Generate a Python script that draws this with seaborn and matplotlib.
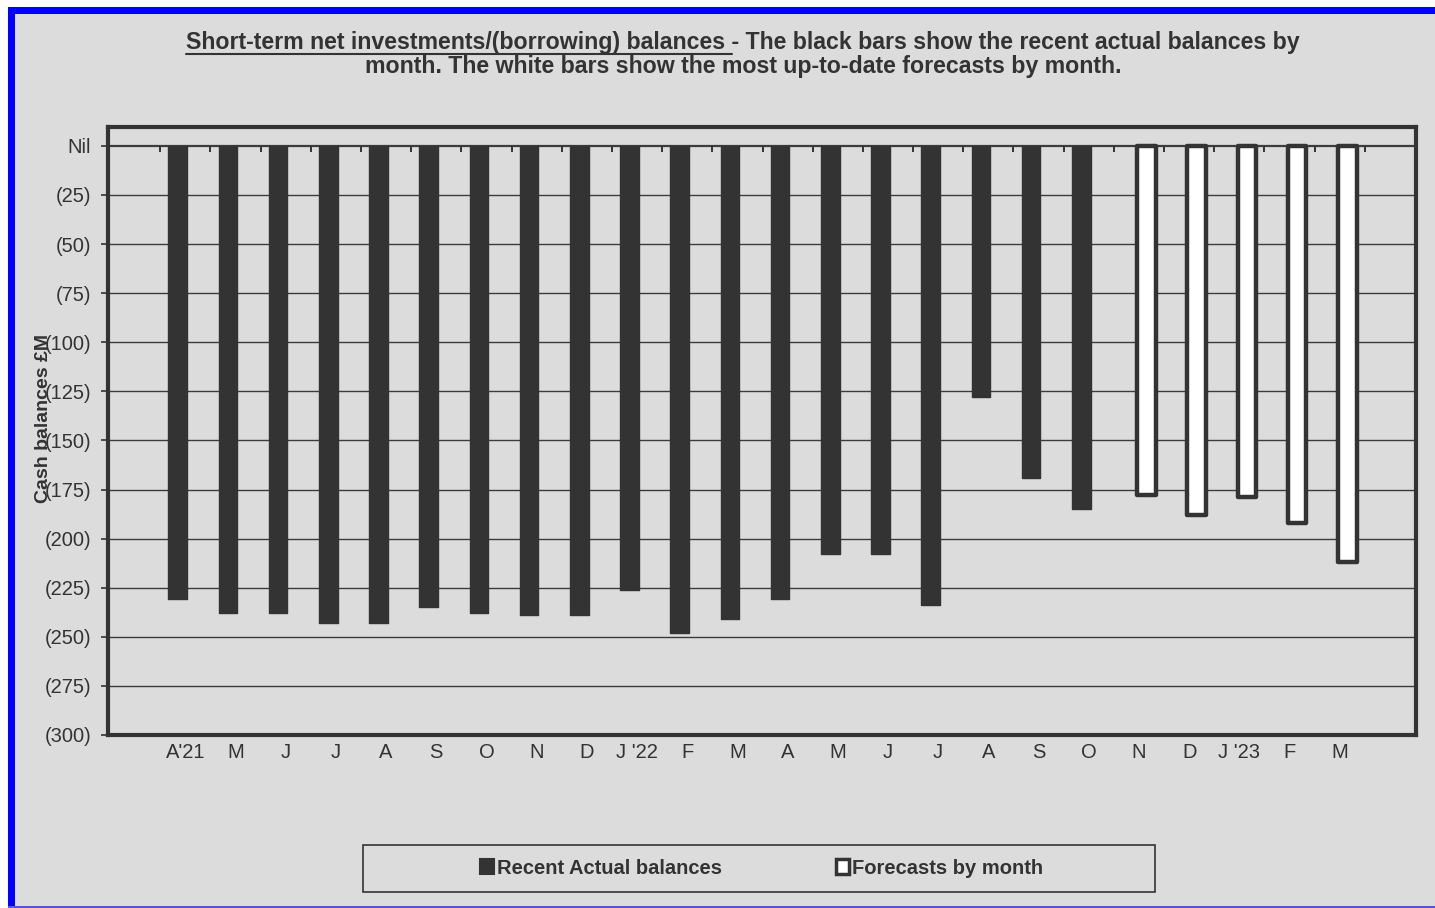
import numpy as np
import pandas as pd
import matplotlib
matplotlib.use("Agg")
import matplotlib.pyplot as plt
from matplotlib.patches import Rectangle, Patch
from matplotlib.lines import Line2D
import seaborn as sns

# ---- data -------------------------------------------------------------
month_labels = ["A'21", "M", "J", "J", "A", "S", "O", "N", "D", "J '22", "F", "M",
                "A", "M", "J", "J", "A", "S", "O", "N", "D", "J '23", "F", "M"]
actual_balances = [-231, -238, -238, -243, -243, -235, -238, -239, -239, -226,
                   -248, -241, -231, -208, -208, -234, -128, -169, -185]
forecast_balances = [-178, -188, -179, -192, -212]
y_ticks = [0, -25, -50, -75, -100, -125, -150, -175, -200, -225, -250, -275, -300]
y_tick_labels = ["Nil", "(25)", "(50)", "(75)", "(100)", "(125)", "(150)", "(175)",
                 "(200)", "(225)", "(250)", "(275)", "(300)"]
series_names = ["Recent Actual balances", "Forecasts by month"]

# ---- tidy frame -------------------------------------------------------
n_act = len(actual_balances)
df = pd.DataFrame({
    "slot": list(range(n_act)) + list(range(n_act, n_act + len(forecast_balances))),
    "balance": actual_balances + forecast_balances,
    "kind": [series_names[0]] * n_act + [series_names[1]] * len(forecast_balances),
})

BG = "#dcdcdc"
DARK = "#333333"

sns.set_theme(style="white")
plt.rcParams["font.family"] = ["Liberation Sans", "DejaVu Sans"]

fig = plt.figure(figsize=(14.35, 9.08), dpi=100, facecolor=BG)
ax = fig.add_axes([108 / 1435, 1 - 735 / 908, (1416 - 108) / 1435, (735 - 127) / 908])
ax.set_facecolor(BG)

sns.barplot(data=df, x="slot", y="balance", hue="kind", order=list(range(len(month_labels))),
            hue_order=series_names, dodge=True, width=0.6,
            palette={series_names[0]: DARK, series_names[1]: "white"},
            legend=False, ax=ax, zorder=3)

# widen the clustered bars so they overlap a little within each month
bar_w = 0.37
for ci, cont in enumerate(ax.containers):
    for p in cont.patches:
        cx = p.get_x() + p.get_width() / 2
        p.set_width(bar_w)
        p.set_x(cx - bar_w / 2)
        p.set_joinstyle("round")
        if ci == 0:
            p.set_facecolor(DARK)
            p.set_edgecolor(DARK)
            p.set_linewidth(1.0)
        else:
            p.set_facecolor("white")
            p.set_edgecolor(DARK)
            p.set_linewidth(3.2)

# ---- axes styling -----------------------------------------------------
TICK_FS = 14.5
ax.set_xlim(-1.54, 24.52)
ax.set_ylim(-300, 9.6)
ax.set_yticks(y_ticks, labels=y_tick_labels)
ax.set_xticks(range(len(month_labels)), labels=month_labels)
ax.tick_params(axis="y", which="major", direction="out", length=5, width=1.2, color=DARK,
               labelsize=TICK_FS, labelcolor=DARK, pad=7, left=True)
ax.tick_params(axis="x", which="major", length=0, labelsize=TICK_FS, labelcolor=DARK, pad=6)
ax.set_xlabel("")
ax.set_ylabel("Cash balances £M", fontsize=14, fontweight="bold", color=DARK)
ax.yaxis.set_label_coords((52 - 108) / 1308, 0.52)

for y in y_ticks:
    if y != 0:
        ax.axhline(y, color="#3c3c3c", lw=1.0, zorder=1)
ax.axhline(0, color="#3c3c3c", lw=1.6, zorder=2)

# category tick marks along the Nil line
bounds = np.arange(len(month_labels) + 1) - 0.5
ax.vlines(bounds, -3, 0, color=DARK, lw=1.4, zorder=2)

for s in ax.spines.values():
    s.set_visible(True)
    s.set_color(DARK)
    s.set_linewidth(3)

# ---- title with underlined lead phrase ---------------------------------
lead = "Short-term net investments/(borrowing) balances "
line1 = lead + "- The black bars show the recent actual balances by"
line2 = "month. The white bars show the most up-to-date forecasts by month."
tkw = dict(fontsize=16.7, fontweight="bold", color=DARK)
t1 = fig.text(743 / 1435, 1 - 43 / 908, line1, ha="center", va="center", **tkw)
fig.text(743 / 1435, 1 - 66 / 908, line2, ha="center", va="center", **tkw)

fig.canvas.draw()
r = fig.canvas.get_renderer()
bb = t1.get_window_extent(r)
probe = fig.text(0, 0, lead, **tkw)
lead_w = probe.get_window_extent(r).width
probe.remove()
W, H = fig.bbox.width, fig.bbox.height
uy = (bb.y0 + 1) / H
fig.add_artist(Line2D([bb.x0 / W, (bb.x0 + lead_w) / W], [uy, uy], color=DARK, lw=1.5))

# ---- legend ---------------------------------------------------------------
fig.add_artist(Rectangle((363 / 1435, 1 - 892 / 908), (1155 - 363) / 1435, 47 / 908,
                         transform=fig.transFigure, facecolor=BG, edgecolor=DARK, lw=1.2))
handles = [Patch(facecolor=DARK, edgecolor=DARK, lw=1.5),
           Patch(facecolor="white", edgecolor=DARK, lw=2.5)]
leg = fig.legend(handles, series_names, loc="center", bbox_to_anchor=(762 / 1435, 1 - 868 / 908),
                 ncol=2, frameon=False, handlelength=0.65, handleheight=0.7,
                 handletextpad=0.15, columnspacing=5.7,
                 prop={"size": 14.5, "weight": "bold"})
for t in leg.get_texts():
    t.set_color(DARK)

# ---- blue frame ---------------------------------------------------------
fig.patches.append(Rectangle((0, 1 - 7 / 908), 1, 7 / 908, transform=fig.transFigure,
                             facecolor="white", edgecolor="none", zorder=0))
fig.patches.append(Rectangle((0, 0), 8 / 1435, 1, transform=fig.transFigure,
                             facecolor="white", edgecolor="none", zorder=0))
fig.patches.append(Rectangle((8 / 1435, 1 - 14 / 908), 1, 7 / 908, transform=fig.transFigure,
                             facecolor="#0000ff", edgecolor="none", zorder=0))
fig.patches.append(Rectangle((8 / 1435, 0), 7 / 1435, 1 - 7 / 908, transform=fig.transFigure,
                             facecolor="#0000ff", edgecolor="none", zorder=0))
fig.patches.append(Rectangle((8 / 1435, 0), 1, 2 / 908, transform=fig.transFigure,
                             facecolor="#5555d5", edgecolor="none", zorder=0))

fig.savefig("out.png", dpi=100, facecolor=BG)
